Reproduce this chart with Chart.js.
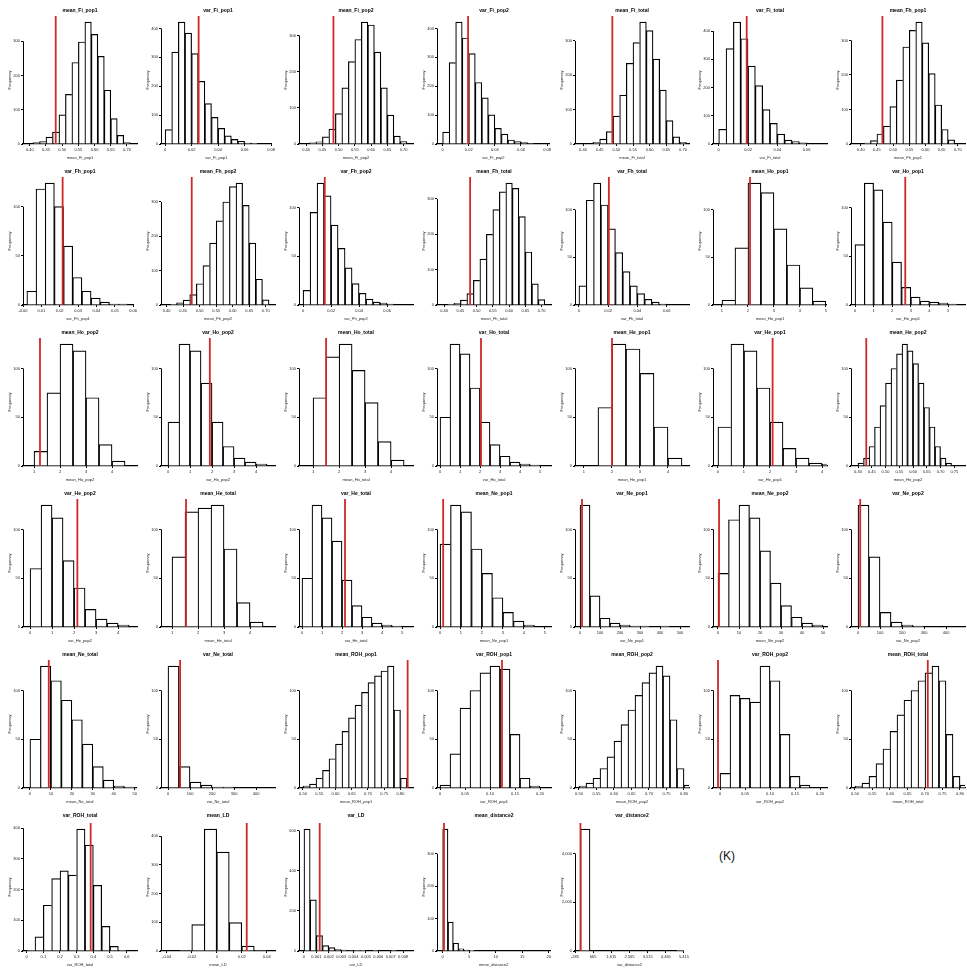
<!DOCTYPE html>
<html><head><meta charset="utf-8">
<script src="https://cdn.jsdelivr.net/npm/chart.js@4"></script>
<style>
body{margin:0;background:#fff;width:967px;height:971px;position:relative;overflow:hidden;font-family:"Liberation Sans",Arial,sans-serif}
canvas.p{position:absolute}
.t{position:absolute;width:120px;text-align:center;font-size:5px;font-weight:bold;line-height:6px;color:#000;white-space:nowrap}
#k{position:absolute;left:719px;top:849px;font-size:12px;color:#111}
</style></head><body>
<div id="k">(K)</div>
<script>
const titles = [
 "mean_Fi_pop1","var_Fi_pop1","mean_Fi_pop2","var_Fi_pop2","mean_Fi_total","var_Fi_total","mean_Fh_pop1",
 "var_Fh_pop1","mean_Fh_pop2","var_Fh_pop2","mean_Fh_total","var_Fh_total","mean_Ho_pop1","var_Ho_pop1",
 "mean_Ho_pop2","var_Ho_pop2","mean_Ho_total","var_Ho_total","mean_He_pop1","var_He_pop1","mean_He_pop2",
 "var_He_pop2","mean_He_total","var_He_total","mean_Ne_pop1","var_Ne_pop1","mean_Ne_pop2","var_Ne_pop2",
 "mean_Ne_total","var_Ne_total","mean_ROH_pop1","var_ROH_pop1","mean_ROH_pop2","var_ROH_pop2","mean_ROH_total",
 "var_ROH_total","mean_LD","var_LD","mean_distance2","var_distance2"
];
const binStarts = [0.41,0,0.41,0,0.43,0,0.41, 0,0.41,0,0.41,0,1,0, 1,0,1,0,1.5,0,0.4, 0,1,0,0,0,0,0, 0,0,0.5,0,0.5,0,0.5, 0,-0.03,0,0,0];
const binWidths = [0.02,0.005,0.02,0.005,0.02,0.005,0.02, 0.005,0.02,0.005,0.02,0.005,0.5,0.5, 0.5,0.5,0.5,0.5,0.5,0.5,0.02, 0.5,0.5,0.5,0.5,50,5,50, 5,50,0.02,0.02,0.02,0.02,0.02, 0.05,0.01,0.0005,1,500];
const counts = [
 [4,7,20,35,85,145,238,298,356,320,256,157,74,25,4],
 [50,318,422,384,313,217,140,92,54,28,16,9,3,1],
 [3,6,20,41,84,155,228,289,337,329,254,155,80,22,7],
 [41,282,422,367,313,213,160,101,54,34,14,8,5,2],
 [5,14,36,81,142,235,295,355,330,247,157,68,21,5],
 [52,338,432,373,276,207,122,73,35,14,9,4],
 [3,10,29,52,108,185,281,329,353,293,204,113,42,12],
 [14,118,124,100,60,28,14,7,3,1,1],
 [2,6,14,30,62,115,180,245,300,345,355,290,180,75,15],
 [15,95,125,112,82,58,38,22,12,6,3,2,1],
 [2,5,14,32,70,130,200,270,320,345,330,250,150,60,15],
 [20,110,128,105,80,55,35,20,12,6,3,1],
 [5,60,128,118,80,42,18,4],
 [62,125,118,85,44,18,8,4,3,2,1],
 [15,75,125,118,70,22,5],
 [45,125,118,85,45,20,8,4,2],
 [70,112,125,98,65,25,6],
 [50,125,115,80,45,22,10,4,2,1],
 [60,125,120,95,40,8],
 [40,125,118,80,45,18,8,3,2],
 [3,8,20,40,62,85,100,115,125,118,105,85,60,40,20,8,3],
 [60,125,112,68,40,18,8,4,2],
 [72,118,122,125,80,25,5],
 [50,125,112,88,48,22,10,4,2,1],
 [85,125,118,80,55,30,15,6,2],
 [125,32,9,4,2,1,1,0,1],
 [55,110,125,112,78,45,22,10,4,2],
 [125,72,15,5,2,1],
 [50,125,110,90,70,45,22,8,2,1],
 [125,22,6,3,1,1],
 [2,4,10,18,30,45,58,72,85,98,108,115,120,125,80,10],
 [3,35,82,100,118,125,122,55,10,2],
 [2,5,10,20,32,48,65,80,95,108,118,125,115,70,20,3],
 [15,95,92,88,125,110,55,12,3],
 [2,5,12,25,40,58,75,90,100,110,118,125,110,55,12,3],
 [2,46,149,236,261,247,397,345,214,80,15,2],
 [2,92,425,345,99,17,2],
 [608,255,77,27,17,7,5,2,1,1,0,1,0,0,1],
 [376,89,24,7,3,1],
 [5000,0,0,0,0,0,0,0,0,0,1]
];
const redLines = [0.48,0.0253,0.484,0.0195,0.488,0.0191,0.467, 0.0195,0.476,0.0155,0.48,0.0205,2.08,2.7, 1.23,1.9,1.5,2.05,2.0,2.1,0.43, 2.15,1.54,2.15,0.15,10,0.5,10, 9,55,0.822,0.124,null,-0.004,0.708, 0.384,0.024,0.00127,0.25,0];
const xMins = [0.379,-0.0031,0.378,-0.0043,0.376,-0.0039,0.370, -0.0021,0.383,-0.0029,0.378,-0.0027,0.654,-0.215, 0.577,-0.318,0.46,-0.15,0.68,-0.19,0.3745, -0.32,0.577,-0.15,-0.143,-25,-2.38,-31.8, -3.3,-31.8,0.4877,-0.006,0.4886,-0.014,0.4886, -0.022,-0.0446,-0.0004,-1.07,-285];
const xMaxs = [0.731,0.0805,0.729,0.0821,0.718,0.0739,0.722, 0.0579,0.728,0.0785,0.729,0.0754,5.04,5.91, 4.96,4.86,4.84,5.55,4.75,4.19,0.789, 4.86,4.96,5.55,5.29,545,51.9,486, 51,486,0.8385,0.222,0.8143,0.214,0.8143, 0.662,0.0466,0.0088,20.3,5415];
const xSteps = [0.05,0.02,0.05,0.02,0.05,0.02,0.05, 0.01,0.05,0.02,0.05,0.02,1,1, 1,1,1,1,1,1,0.05, 1,1,1,1,100,10,100, 10,100,0.05,0.05,0.05,0.05,0.05, 0.1,0.02,0.001,5,1000];

const rowTops = [0,161,322,483,644,805];
const tickFont = {size:4, family:"Liberation Sans"};

// R-style y axis: line only from the first to the last tick
const rAxis = {
  id:'rAxis',
  afterDraw(chart){
    const y = chart.scales.y, t = y.ticks;
    if (!t.length) return;
    const x = Math.round(chart.chartArea.left) + 0.5;
    const ctx = chart.ctx;
    ctx.save();
    ctx.strokeStyle = '#000'; ctx.lineWidth = 1;
    ctx.beginPath();
    ctx.moveTo(x, y.getPixelForValue(t[0].value));
    ctx.lineTo(x, y.getPixelForValue(t[t.length-1].value));
    ctx.stroke();
    ctx.restore();
  }
};

for (let i = 0; i < titles.length; i++) {
  const col = i % 7, row = Math.floor(i / 7);
  const last = row === 5;
  const cv = document.createElement('canvas');
  cv.className = 'p';
  cv.width = 138; cv.height = last ? 162 : 160;
  cv.style.left = (col * 138) + 'px';
  cv.style.top = rowTops[row] + 'px';
  document.body.appendChild(cv);
  const tt = document.createElement('div');
  tt.className = 't';
  tt.textContent = titles[i];
  tt.style.left = (col * 138 + 20) + 'px';
  tt.style.top = (rowTops[row] + (last ? 7 : 7)) + 'px';
  document.body.appendChild(tt);

  const cs = counts[i], w = binWidths[i], x0 = binStarts[i];
  const bars = cs.map((v, j) => ({x: x0 + (j + 0.5) * w, y: v}));
  const M = Math.max(...cs);
  const yTop = M * 1.05;
  const sets = [
    {type:'bar', data:bars, backgroundColor:'#ffffff', borderColor:'#000000', borderSkipped:false,
     borderWidth: ctx => {
       const j = ctx.dataIndex; const v = cs[j]; const nx = j + 1 < cs.length ? cs[j+1] : 0;
       return {left:1.2, top:1.2, bottom:0, right: (v > nx) ? 1.2 : 0};
     },
     barPercentage:1, categoryPercentage:1, order:1}
  ];
  if (redLines[i] !== null) {
    sets.unshift({type:'line', data:[{x:redLines[i], y:0},{x:redLines[i], y:yTop}], borderColor:'#d0282a', borderWidth:1.8, pointRadius:0, order:0, clip:false});
  }
  new Chart(cv, {
    type: 'bar',
    data: {datasets: sets},
    plugins: [rAxis],
    options: {
      responsive:false, animation:false, events:[],
      layout:{padding:{left:0, right:1, top: last ? 18 : 16, bottom:0}},
      plugins:{ legend:{display:false}, tooltip:{enabled:false}, title:{display:false} },
      scales:{
        x:{type:'linear', min:xMins[i], max:xMaxs[i], offset:false,
           grid:{display:true, drawOnChartArea:false, drawTicks:true, tickLength:2, color:'#000', offset:false},
           border:{display:true, color:'#000', width:1.2},
           ticks:{stepSize:xSteps[i], includeBounds:false, autoSkip:false, maxRotation:0, minRotation:0, color:'#222', font:tickFont, padding:1},
           title:{display:true, text:titles[i], color:'#222', font:{size:4, family:"Liberation Sans"}, padding:{top:1, bottom:0}},
           afterFit: s => { s.height = 16; }
        },
        y:{min:0, max:yTop,
           grid:{display:true, drawOnChartArea:false, drawTicks:true, tickLength:2, color:'#000'},
           border:{display:false},
           ticks:{maxTicksLimit:6, includeBounds:false, color:'#222', font:tickFont, padding:1},
           title:{display:true, text:'Frequency', color:'#222', font:{size:4, family:"Liberation Sans"}, padding:{top:7, bottom:0}},
           afterFit: s => { s.width = 23; }
        }
      }
    }
  });
}
</script>
</body></html>
